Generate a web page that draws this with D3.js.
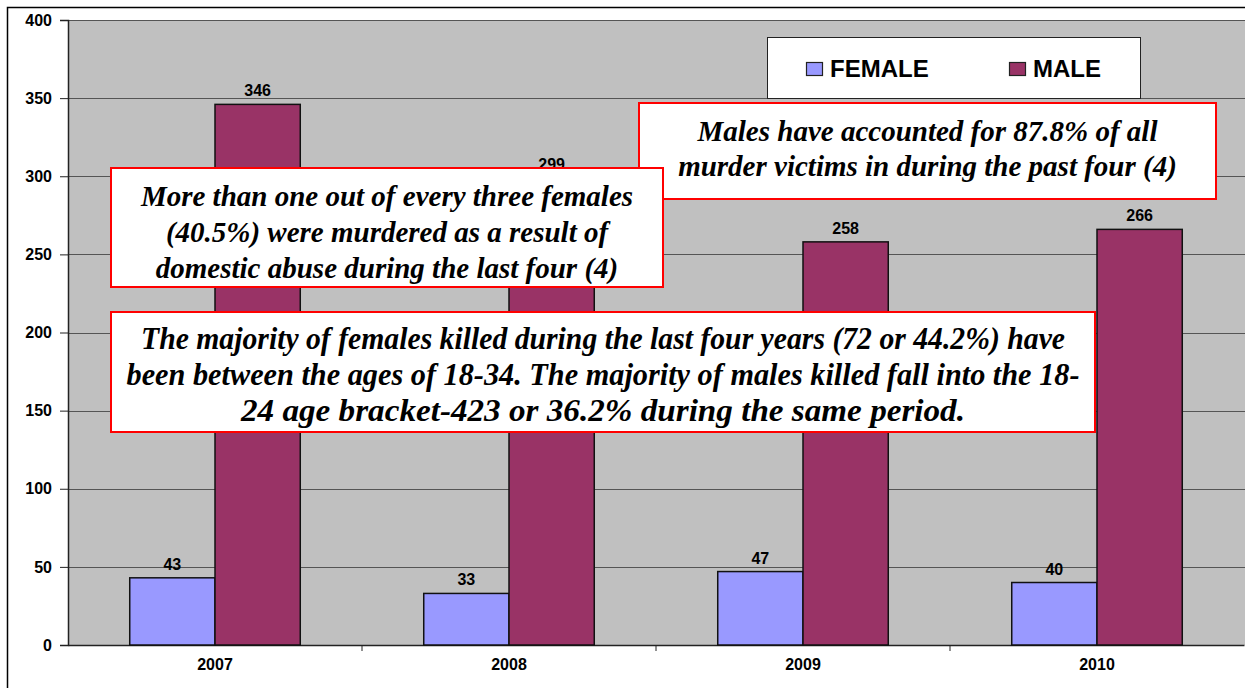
<!DOCTYPE html>
<html>
<head>
<meta charset="utf-8">
<script src="https://cdn.jsdelivr.net/npm/d3@7"></script>
<style>
  body { margin: 0; background: #fff; }
  svg { display: block; }
</style>
</head>
<body>
<svg width="1245" height="688"></svg>
<script>
// data
var years = ["2007", "2008", "2009", "2010"];
var female = [43, 33, 47, 40];
var male = [346, 299, 258, 266];
var series = ["FEMALE", "MALE"];
var colors = ["#9999FF", "#993366"];
var yTicks = [0, 50, 100, 150, 200, 250, 300, 350, 400];

var note1 = ["More than one out of every three females",
             "(40.5%) were murdered as a result of",
             "domestic abuse during the last four (4)"];
var note2 = ["Males have accounted for 87.8% of all",
             "murder victims in during the past four (4)"];
var note3 = ["The majority of females killed during the last four years (72 or 44.2%) have",
             "been between the ages of 18-34. The majority of males killed fall into the 18-",
             "24 age bracket-423 or 36.2% during the same period."];

var svg = d3.select("svg");
var sansFont = "'Liberation Sans', Arial, sans-serif";
var serifFont = "'Liberation Serif', 'Times New Roman', serif";

var pLeft = 68, pTop = 20, pRight = 1245, pBottom = 645;

var x = d3.scaleBand().domain(years).range([pLeft, pLeft + 294 * 4]);
var y = d3.scaleLinear().domain([0, 400]).range([pBottom, pTop]);
var xs = d3.scaleBand().domain(series)
    .range([x.bandwidth() * 0.21, x.bandwidth() * 0.79]);

// outer frame
svg.append("path")
    .attr("d", "M7.5,688V7.5H1245")
    .attr("fill", "none")
    .attr("stroke", "#000")
    .attr("stroke-width", 1.5);

// plot area
svg.append("rect")
    .attr("x", pLeft).attr("y", pTop)
    .attr("width", pRight - pLeft).attr("height", pBottom - pTop)
    .attr("fill", "#C0C0C0");

// gridlines
svg.append("g").selectAll("line")
    .data(yTicks.slice(1))
    .join("line")
    .attr("x1", pLeft).attr("x2", pRight)
    .attr("y1", function(d) { return Math.round(y(d)) + 0.5; })
    .attr("y2", function(d) { return Math.round(y(d)) + 0.5; })
    .attr("stroke", "#555").attr("stroke-width", 1);

// y axis
var yAxis = d3.axisLeft(y).tickValues(yTicks).tickSize(8).tickPadding(8);
var gy = svg.append("g")
    .attr("transform", "translate(" + pLeft + ",0)")
    .call(yAxis);
gy.select(".domain").attr("stroke", "#222").attr("stroke-width", 1.5);
gy.selectAll(".tick line").attr("stroke", "#222");
gy.selectAll("text")
    .attr("font-family", sansFont)
    .attr("font-weight", "bold")
    .attr("font-size", 16)
    .attr("fill", "#000");

// x axis
var xAxis = d3.axisBottom(x).tickSize(0).tickPadding(14);
var gx = svg.append("g")
    .attr("transform", "translate(0," + pBottom + ")")
    .call(xAxis);
gx.select(".domain").attr("stroke", "#222").attr("stroke-width", 1.5);
gx.selectAll("text")
    .attr("font-family", sansFont)
    .attr("font-weight", "bold")
    .attr("font-size", 16)
    .attr("fill", "#000");
// category boundary ticks
svg.append("g").selectAll("line")
    .data(years.slice(1))
    .join("line")
    .attr("x1", function(d) { return x(d); })
    .attr("x2", function(d) { return x(d); })
    .attr("y1", pBottom).attr("y2", pBottom + 6)
    .attr("stroke", "#222");

// bars
var rows = [];
years.forEach(function(yr, i) {
    rows.push({ year: yr, s: "FEMALE", v: female[i] });
    rows.push({ year: yr, s: "MALE", v: male[i] });
});

svg.append("g").selectAll("rect")
    .data(rows)
    .join("rect")
    .attr("x", function(d) { return x(d.year) + xs(d.s); })
    .attr("y", function(d) { return y(d.v); })
    .attr("width", xs.bandwidth())
    .attr("height", function(d) { return y(0) - y(d.v); })
    .attr("fill", function(d) { return colors[series.indexOf(d.s)]; })
    .attr("stroke", "#111")
    .attr("stroke-width", 1.5);

svg.append("g").selectAll("text")
    .data(rows)
    .join("text")
    .attr("x", function(d) { return x(d.year) + xs(d.s) + xs.bandwidth() / 2; })
    .attr("y", function(d) { return y(d.v) - 8; })
    .attr("text-anchor", "middle")
    .attr("font-family", sansFont)
    .attr("font-weight", "bold")
    .attr("font-size", 16)
    .text(function(d) { return d.v; });

// legend
var lg = svg.append("g");
lg.append("rect")
    .attr("x", 767.5).attr("y", 37.5).attr("width", 373).attr("height", 61)
    .attr("fill", "#fff").attr("stroke", "#222").attr("stroke-width", 1);
var legX = [806, 1009];
series.forEach(function(s, i) {
    lg.append("rect")
        .attr("x", legX[i] + 0.5).attr("y", 62.5).attr("width", 16).attr("height", 13)
        .attr("fill", colors[i]).attr("stroke", "#222").attr("stroke-width", 1.2);
    lg.append("text")
        .attr("x", legX[i] + 24).attr("y", 77)
        .attr("font-family", sansFont)
        .attr("font-weight", "bold")
        .attr("font-size", 24)
        .text(s);
});

// note boxes
function noteBox(id, x0, y0, x1, y1, lines, ys, fs, lengths) {
    var g = svg.append("g");
    g.append("clipPath").attr("id", id)
        .append("rect").attr("x", x0).attr("y", y0).attr("width", x1 - x0).attr("height", y1 - y0);
    g.append("rect")
        .attr("x", x0).attr("y", y0).attr("width", x1 - x0).attr("height", y1 - y0)
        .attr("fill", "#fff").attr("stroke", "#FF0000").attr("stroke-width", 2);
    var t = g.append("g").attr("clip-path", "url(#" + id + ")");
    lines.forEach(function(line, i) {
        var tx = t.append("text")
            .attr("x", (x0 + x1) / 2).attr("y", ys[i])
            .attr("text-anchor", "middle")
            .attr("font-family", serifFont)
            .attr("font-weight", "bold")
            .attr("font-style", "italic")
            .attr("font-size", fs)
            .text(line);
        if (lengths) {
            tx.attr("textLength", lengths[i]).attr("lengthAdjust", "spacingAndGlyphs");
        }
    });
}

noteBox("n2", 639, 103, 1216, 199, note2, [141, 176], 29);
noteBox("n1", 111, 168, 663, 287, note1, [206, 242, 278], 29);
noteBox("n3", 111, 312, 1095, 432, note3, [349, 385, 421], 31, [924, 953, 724]);
</script>
</body>
</html>
